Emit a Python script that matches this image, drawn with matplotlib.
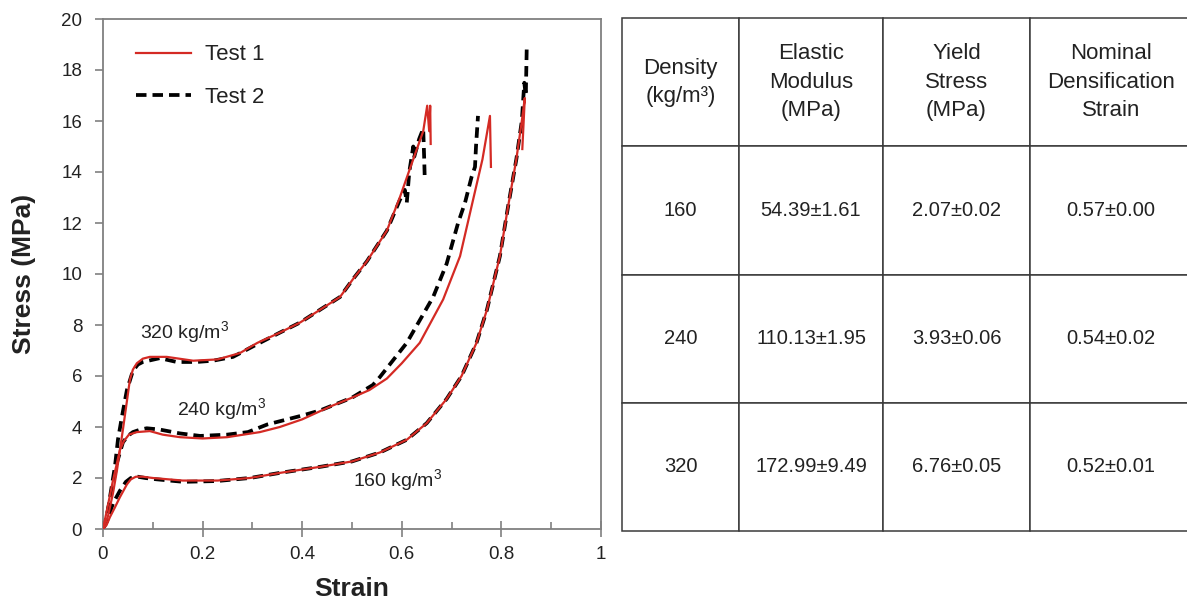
import matplotlib
matplotlib.use("Agg")
import matplotlib.pyplot as plt
from matplotlib.ticker import MultipleLocator

plt.rcParams['font.family'] = ['Liberation Sans', 'DejaVu Sans']

# stress-strain curves (strain, stress in MPa)
d160_t1_strain = [0, 0.007, 0.014, 0.024, 0.034, 0.048, 0.056, 0.066, 0.08, 0.1, 0.16, 0.23, 0.295,
                  0.355, 0.44, 0.5, 0.556, 0.61, 0.65, 0.69, 0.72, 0.75, 0.771, 0.797, 0.813, 0.83,
                  0.841, 0.847, 0.842]
d160_t1_stress = [0, 0.15, 0.47, 0.85, 1.25, 1.75, 1.95, 2.05, 2.05, 2.0, 1.9, 1.9, 2.0,
                  2.2, 2.45, 2.65, 3.0, 3.5, 4.15, 5.1, 6.0, 7.3, 8.6, 10.7, 12.6, 14.5,
                  16.0, 16.9, 14.9]
d160_t2_strain = [0, 0.008, 0.02, 0.034, 0.046, 0.056, 0.07, 0.085, 0.107, 0.161, 0.228, 0.295,
                  0.355, 0.44, 0.5, 0.556, 0.61, 0.65, 0.69, 0.72, 0.75, 0.771, 0.797, 0.813, 0.83,
                  0.841, 0.846, 0.849, 0.851]
d160_t2_stress = [0, 0.3, 1.0, 1.5, 1.85, 2.0, 2.05, 2.0, 1.95, 1.85, 1.88, 2.0,
                  2.2, 2.45, 2.65, 3.0, 3.5, 4.15, 5.1, 6.0, 7.3, 8.6, 10.7, 12.6, 14.5,
                  16.0, 17.5, 17.0, 19.0]

d240_t1_strain = [0, 0.008, 0.02, 0.034, 0.042, 0.052, 0.068, 0.094, 0.12, 0.155, 0.2, 0.249,
                  0.315, 0.355, 0.4, 0.456, 0.5, 0.535, 0.57, 0.6, 0.636, 0.683, 0.717, 0.743,
                  0.762, 0.777, 0.779]
d240_t1_stress = [0, 0.75, 1.9, 3.1, 3.45, 3.7, 3.8, 3.84, 3.7, 3.6, 3.55, 3.6,
                  3.8, 4.0, 4.3, 4.8, 5.15, 5.45, 5.9, 6.5, 7.3, 9.0, 10.7, 12.9,
                  14.5, 16.2, 14.2]
d240_t2_strain = [0, 0.007, 0.014, 0.028, 0.04, 0.05, 0.06, 0.075, 0.088, 0.114, 0.154, 0.195,
                  0.249, 0.291, 0.33, 0.4, 0.436, 0.5, 0.542, 0.556, 0.61, 0.663, 0.69, 0.713,
                  0.727, 0.74, 0.747, 0.749, 0.753]
d240_t2_stress = [0, 0.5, 1.1, 2.6, 3.4, 3.65, 3.8, 3.9, 3.95, 3.9, 3.75, 3.65,
                  3.7, 3.8, 4.1, 4.45, 4.65, 5.15, 5.65, 5.96, 7.3, 9.1, 10.4, 12.0,
                  12.8, 13.8, 14.2, 15.0, 16.2]

d320_t1_strain = [0, 0.01, 0.02, 0.028, 0.04, 0.054, 0.06, 0.068, 0.08, 0.094, 0.128, 0.181,
                  0.23, 0.275, 0.31, 0.355, 0.396, 0.436, 0.476, 0.502, 0.53, 0.55, 0.57,
                  0.596, 0.623, 0.643, 0.651, 0.655, 0.657, 0.658]
d320_t1_stress = [0, 0.5, 1.4, 2.3, 3.9, 5.85, 6.25, 6.5, 6.68, 6.75, 6.75, 6.6,
                  6.65, 6.9, 7.3, 7.7, 8.1, 8.6, 9.1, 9.8, 10.5, 11.1, 11.7,
                  13.0, 14.5, 15.6, 16.6, 15.6, 16.6, 15.1]
d320_t2_strain = [0, 0.008, 0.014, 0.024, 0.03, 0.038, 0.048, 0.06, 0.07, 0.08, 0.114, 0.148,
                  0.188, 0.221, 0.261, 0.3, 0.355, 0.396, 0.436, 0.476, 0.502, 0.53, 0.55,
                  0.57, 0.596, 0.606, 0.61, 0.615, 0.623, 0.625, 0.635, 0.643, 0.645, 0.646]
d320_t2_stress = [0, 0.47, 1.25, 2.45, 3.5, 4.4, 5.45, 6.2, 6.45, 6.55, 6.7, 6.55,
                  6.55, 6.6, 6.75, 7.15, 7.7, 8.1, 8.6, 9.1, 9.8, 10.5, 11.1,
                  11.7, 12.9, 13.3, 12.8, 14.0, 15.0, 14.6, 15.3, 15.7, 14.5, 13.8]

density_labels = ["160 kg/m$^3$", "240 kg/m$^3$", "320 kg/m$^3$"]
label_pos = [(0.503, 1.88), (0.149, 4.67), (0.075, 7.7)]

# table values
col_headers = ["Density\n(kg/m³)", "Elastic\nModulus\n(MPa)", "Yield\nStress\n(MPa)",
               "Nominal\nDensification\nStrain"]
densities = ["160", "240", "320"]
modulus = ["54.39±1.61", "110.13±1.95", "172.99±9.49"]
yield_stress = ["2.07±0.02", "3.93±0.06", "6.76±0.05"]
dens_strain = ["0.57±0.00", "0.54±0.02", "0.52±0.01"]

plt.rcParams['mathtext.fontset'] = 'custom'
plt.rcParams['mathtext.rm'] = 'Liberation Sans'

red = '#d42a24'
txt = '#222222'
W, H = 1187, 602
fig = plt.figure(figsize=(W / 100, H / 100), dpi=100)
ax = fig.add_axes([103 / W, 73 / H, 498 / W, 510 / H])

curves = [(d160_t1_strain, d160_t1_stress, d160_t2_strain, d160_t2_stress),
          (d240_t1_strain, d240_t1_stress, d240_t2_strain, d240_t2_stress),
          (d320_t1_strain, d320_t1_stress, d320_t2_strain, d320_t2_stress)]
for i, (x1, y1, x2, y2) in enumerate(curves):
    ax.plot(x1, y1, color=red, lw=1.6, label='Test 1' if i == 0 else None, zorder=3)
    ax.plot(x2, y2, color='black', lw=2.7, dashes=(2.8, 1.6),
            label='Test 2' if i == 0 else None, zorder=2)

for lab, (lx, ly) in zip(density_labels, label_pos):
    ax.text(lx, ly, lab, fontsize=14, color=txt, ha='left', va='center')

ax.set_xlim(0, 1)
ax.set_ylim(0, 20)
ax.xaxis.set_minor_locator(MultipleLocator(0.1))
ax.yaxis.set_major_locator(MultipleLocator(2))
ax.set_xticks([0, 0.2, 0.4, 0.6, 0.8, 1.0])
ax.set_xticklabels(["0", "0.2", "0.4", "0.6", "0.8", "1"])
ax.tick_params(axis='x', which='major', direction='inout', length=11, width=1.2,
               color='#808080', labelsize=13.5, labelcolor=txt, pad=7)
ax.tick_params(axis='x', which='minor', direction='in', length=5, width=1.2, color='#808080')
ax.tick_params(axis='y', direction='out', length=6, width=1.2, color='#808080',
               labelsize=13.5, labelcolor=txt, pad=9)
for sp in ax.spines.values():
    sp.set_color('#808080')
    sp.set_linewidth(1.3)

ax.set_xlabel("Strain", fontsize=19, fontweight='bold', color=txt)
ax.set_ylabel("Stress (MPa)", fontsize=19, fontweight='bold', color=txt)
ax.xaxis.set_label_coords(0.5, -0.095)
ax.yaxis.set_label_coords(-0.135, 0.5)

ax.legend(loc='upper left', bbox_to_anchor=(0.066, 0.95), frameon=False, fontsize=16,
          handlelength=2.5, handletextpad=0.6, labelspacing=0.95, borderpad=0,
          borderaxespad=0, labelcolor=txt)

# table on the right
tab_ax = fig.add_axes([622 / W, 71 / H, 570 / W, 513 / H])
tab_ax.axis('off')
rows = [list(r) for r in zip(densities, modulus, yield_stress, dens_strain)]
tbl = tab_ax.table(cellText=rows, colLabels=col_headers, cellLoc='center',
                   colWidths=[117, 144, 147, 162], bbox=[0, 0, 1, 1])
tbl.auto_set_font_size(False)
for (r, c), cell in tbl.get_celld().items():
    cell.set_edgecolor('#3a3a3a')
    cell.set_linewidth(1.1)
    t = cell.get_text()
    t.set_color(txt)
    if r == 0:
        t.set_fontsize(16)
        t.set_linespacing(1.45)
    else:
        t.set_fontsize(14.5)

fig.savefig("out.png", dpi=100)
